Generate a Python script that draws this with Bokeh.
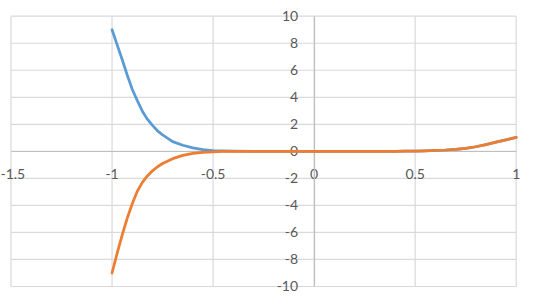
from bokeh.plotting import figure
from bokeh.models import Range1d, FixedTicker, CustomJSTickFormatter
from bokeh.embed import file_html
from bokeh.resources import INLINE

x_values = [-1.0, -0.975, -0.95, -0.925, -0.9, -0.875, -0.85, -0.825, -0.8, -0.775,
            -0.75, -0.7, -0.65, -0.6, -0.55, -0.5, -0.45, -0.4, -0.3, -0.2,
            -0.1, 0.0, 0.1, 0.2, 0.3, 0.4, 0.45, 0.5, 0.55, 0.6,
            0.65, 0.7, 0.75, 0.8, 0.85, 0.9, 0.95, 1.0]
blue_values = [9.0, 7.9, 6.8, 5.65, 4.6, 3.75, 2.97, 2.38, 1.92, 1.52,
               1.22, 0.72, 0.45, 0.26, 0.13, 0.06, 0.03, 0.01, 0, 0,
               0, 0, 0, 0, 0, 0.005, 0.01, 0.02, 0.04, 0.07,
               0.1, 0.15, 0.22, 0.34, 0.5, 0.68, 0.85, 1.03]
orange_values = [-9.0, -7.55, -6.2, -4.95, -3.88, -2.95, -2.3, -1.82, -1.44, -1.14,
                 -0.9, -0.54, -0.3, -0.15, -0.07, -0.03, -0.01, 0, 0, 0,
                 0, 0, 0, 0, 0, 0.005, 0.01, 0.02, 0.04, 0.07,
                 0.1, 0.15, 0.22, 0.34, 0.5, 0.68, 0.85, 1.03]
x_ticks = [-1.5, -1, -0.5, 0, 0.5, 1]
y_ticks = [-10, -8, -6, -4, -2, 0, 2, 4, 6, 8, 10]

x_lo, x_hi = x_ticks[0], x_ticks[-1]
y_lo, y_hi = y_ticks[0], y_ticks[-1]

p = figure(width=540, height=304, output_backend="svg", toolbar_location=None,
           x_range=Range1d(-1.552, 1.1203), y_range=Range1d(-11.332, 11.162),
           min_border=0)
p.background_fill_color = "white"
p.border_fill_color = "white"
p.outline_line_color = None
p.grid.visible = False

# gridlines (plot area bounded to the tick extent)
p.multi_line(xs=[[t, t] for t in x_ticks], ys=[[y_lo, y_hi] for _ in x_ticks],
             line_color="#D9D9D9", line_width=1.2)
p.multi_line(xs=[[x_lo, x_hi] for _ in y_ticks], ys=[[t, t] for t in y_ticks],
             line_color="#D9D9D9", line_width=1.2)

for ax, ticks in ((p.xaxis, x_ticks), (p.yaxis, y_ticks)):
    ax.ticker = FixedTicker(ticks=ticks)
    ax.bounds = (ticks[0], ticks[-1])
    ax.fixed_location = 0
    ax.axis_line_color = "#BFBFBF"
    ax.axis_line_width = 1.2
    ax.major_tick_out = 0
    ax.major_tick_in = 0
    ax.minor_tick_line_color = None
    ax.major_label_text_color = "#595959"
    ax.major_label_text_font = "Lato"
    ax.major_label_text_font_size = "14px"
    ax.formatter = CustomJSTickFormatter(code="return String(tick);")

p.xaxis.major_label_standoff = 18
p.yaxis.major_label_standoff = 16

p.line(x_values, blue_values, line_color="#5B9BD5", line_width=2.75,
       line_join="round", line_cap="round", level="overlay")
p.line(x_values, orange_values, line_color="#ED7D31", line_width=2.75,
       line_join="round", line_cap="round", level="overlay")

open("out.html", "w").write(file_html(p, INLINE))
